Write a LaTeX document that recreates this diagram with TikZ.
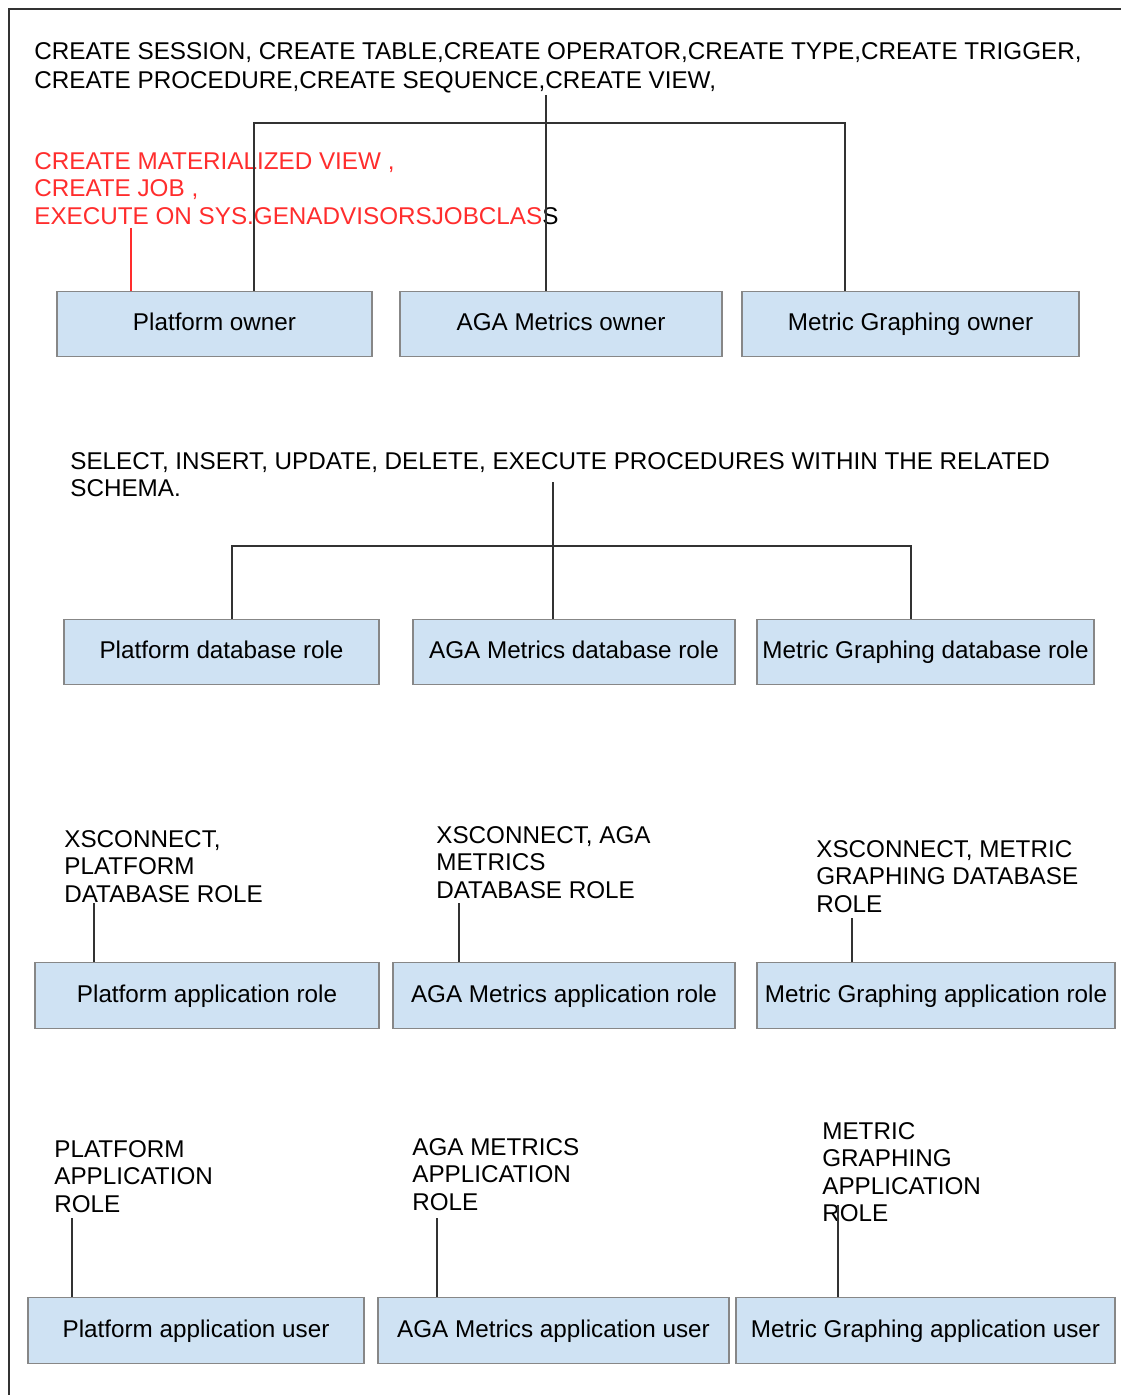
\documentclass[tikz,border=0pt]{standalone}
\usepackage{fontspec}
\setmainfont{Liberation Sans}
\usepackage{xcolor}
\usepackage{tikz}
\definecolor{boxfill}{RGB}{207,226,243}
\definecolor{boxedge}{RGB}{135,135,135}
\definecolor{linkgray}{RGB}{50,50,50}
\definecolor{privred}{RGB}{255,45,45}
\tikzset{
  rolebox/.style={draw=boxedge, line width=0.7pt, fill=boxfill, inner sep=0pt, minimum height=1.31cm, text height=1.75ex, text depth=0.3ex},
  privtext/.style={anchor=north west, inner sep=0pt, align=left},
  link/.style={draw=linkgray, line width=0.8pt},
}
\begin{document}
\begin{tikzpicture}[x=0.02cm, y=-0.02cm, font=\fontsize{13.8}{15.6}\selectfont]
            \useasboundingbox (0,0) rectangle (1121,1395);
            \draw[line width=1.2pt, black!80] (9,1395) -- (9,9) -- (1121,9);

            % owners
            \node[privtext] at (34,42) (ownpriv) {CREATE SESSION, CREATE TABLE,CREATE OPERATOR,CREATE TYPE,CREATE TRIGGER,\\[1pt]CREATE PROCEDURE,CREATE SEQUENCE,CREATE VIEW,};
            \node[privtext, text=privred] at (34,152) (ownextra) {CREATE MATERIALIZED VIEW ,\\CREATE JOB ,\\EXECUTE ON SYS.GENADVISORSJOBCLAS\textcolor{black}{S}};
            \node[rolebox, minimum width=6.30cm] at (214.5,324) (pown) {Platform owner};
            \node[rolebox, minimum width=6.44cm] at (561,324)   (aown) {AGA Metrics owner};
            \node[rolebox, minimum width=6.74cm] at (910.5,324) (mown) {Metric Graphing owner};

            \coordinate (ownsplit) at (546,95);
            \coordinate (ownleft)  at (254,123);
            \coordinate (ownright) at (845,123);
            \coordinate (redsplit) at (131,228);
            \draw[link] (ownsplit) -- (ownsplit |- aown.north);
            \draw[link] (pown.north -| ownleft) -- (ownleft) -- (ownright) -- (ownright |- mown.north);
            \draw[draw=privred, line width=0.8pt] (redsplit) -- (redsplit |- pown.north);

            % database roles
            \node[privtext] at (70,452) (dbpriv) {SELECT, INSERT, UPDATE, DELETE, EXECUTE PROCEDURES WITHIN THE RELATED\\SCHEMA.};
            \node[rolebox, minimum width=6.30cm] at (221.5,652) (pdb) {Platform database role};
            \node[rolebox, minimum width=6.44cm] at (574,652)   (adb) {AGA Metrics database role};
            \node[rolebox, minimum width=6.74cm] at (925.5,652) (mdb) {Metric Graphing database role};

            \coordinate (dbsplit) at (553,482);
            \coordinate (dbleft)  at (232,546);
            \coordinate (dbright) at (911,546);
            \draw[link] (dbsplit) -- (dbsplit |- adb.north);
            \draw[link] (pdb.north -| dbleft) -- (dbleft) -- (dbright) -- (dbright |- mdb.north);

            % application roles
            \node[privtext] at (64,830)  (papppriv) {XSCONNECT,\\PLATFORM\\DATABASE ROLE};
            \node[privtext] at (436,826) (aapppriv) {XSCONNECT, AGA\\METRICS\\DATABASE ROLE};
            \node[privtext] at (816,840) (mapppriv) {XSCONNECT, METRIC\\GRAPHING DATABASE\\ROLE};
            \node[rolebox, minimum width=6.88cm] at (207,995.5) (papp) {Platform application role};
            \node[rolebox, minimum width=6.84cm] at (564,995.5) (aapp) {AGA Metrics application role};
            \node[rolebox, minimum width=7.16cm] at (936,995.5) (mapp) {Metric Graphing application role};

            \coordinate (pappend) at (94,903);
            \coordinate (aappend) at (459,903);
            \coordinate (mappend) at (852,918);
            \draw[link] (pappend) -- (pappend |- papp.north);
            \draw[link] (aappend) -- (aappend |- aapp.north);
            \draw[link] (mappend) -- (mappend |- mapp.north);

            % application users
            \node[privtext] at (54,1140)  (pusrpriv) {PLATFORM\\APPLICATION\\ROLE};
            \node[privtext] at (412,1138) (ausrpriv) {AGA METRICS\\APPLICATION\\ROLE};
            \node[privtext] at (822,1122) (musrpriv) {METRIC\\GRAPHING\\APPLICATION\\ROLE};
            \node[rolebox, minimum width=6.72cm] at (196,1330.5)   (pusr) {Platform application user};
            \node[rolebox, minimum width=7.02cm] at (553.5,1330.5) (ausr) {AGA Metrics application user};
            \node[rolebox, minimum width=7.58cm] at (925.5,1330.5) (musr) {Metric Graphing application user};

            \coordinate (pusrend) at (72,1218);
            \coordinate (ausrend) at (437,1218);
            \coordinate (musrend) at (838,1205);
            \draw[link] (pusrend) -- (pusrend |- pusr.north);
            \draw[link] (ausrend) -- (ausrend |- ausr.north);
            \draw[link] (musrend) -- (musrend |- musr.north);
        \end{tikzpicture}
\end{document}
